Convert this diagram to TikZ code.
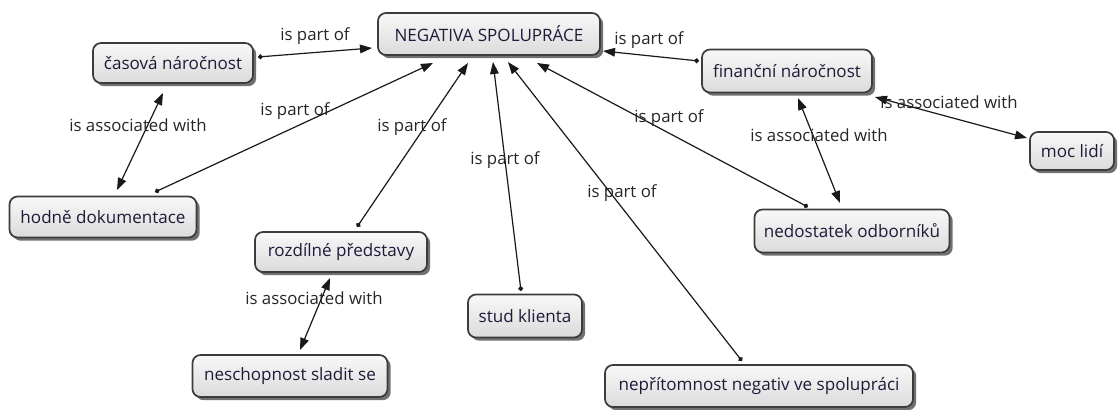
\documentclass[tikz,border=0pt]{standalone}
\usepackage{fontspec}
\setmainfont{Open Sans}
\usetikzlibrary{calc,arrows.meta,shadows}
\definecolor{boxfill}{HTML}{EEEEEE}
\definecolor{boxline}{HTML}{3C3C3C}
\definecolor{txt}{HTML}{1C1C3A}
\tikzset{
  concept/.style={draw=boxline, line width=1.3pt, rounded corners=6pt,
    top color=boxfill!40!white, bottom color=boxfill!92!black, 
    text=txt, inner sep=0pt, align=center,
    font=\fontsize{12.8pt}{14pt}\selectfont,
    drop shadow={shadow xshift=2.4pt, shadow yshift=-2.4pt, fill=black!65, opacity=0.85}},
  lbl/.style={text=black!85, inner sep=0pt, font=\fontsize{12.6pt}{14pt}\selectfont},
  partof/.style={draw=black!90, line width=0.9pt, {Circle[length=3.6pt]}-{Triangle[length=9pt,width=6.5pt]}},
  assoc/.style={draw=black!90, line width=0.9pt, {Triangle[length=9pt,width=6.5pt]}-{Triangle[length=9pt,width=6.5pt]}}
}
\begin{document}
\begin{tikzpicture}[x=0.75pt,y=-0.75pt]
\useasboundingbox[fill=white] (0,0) rectangle (1118,410);
% concepts
\node[concept, minimum width=222*0.75pt, minimum height=42*0.75pt] (neg) at (489,34) {NEGATIVA SPOLUPRÁCE};
\node[concept, minimum width=160*0.75pt, minimum height=40*0.75pt] (cas) at (173,63) {časová náročnost};
\node[concept, minimum width=170*0.75pt, minimum height=43*0.75pt] (fin) at (787,71) {finanční náročnost};
\node[concept, minimum width=84*0.75pt, minimum height=38*0.75pt] (moc) at (1072,151) {moc lidí};
\node[concept, minimum width=187*0.75pt, minimum height=41*0.75pt] (hod) at (103,217) {hodně dokumentace};
\node[concept, minimum width=172*0.75pt, minimum height=40*0.75pt] (roz) at (341,252) {rozdílné představy};
\node[concept, minimum width=195*0.75pt, minimum height=43*0.75pt] (ned) at (852,231) {nedostatek odborníků};
\node[concept, minimum width=195*0.75pt, minimum height=42*0.75pt] (nes) at (290,376) {neschopnost sladit se};
\node[concept, minimum width=114*0.75pt, minimum height=43*0.75pt] (stud) at (525,316) {stud klienta};
\node[concept, minimum width=308*0.75pt, minimum height=42*0.75pt] (nep) at (759,386) {nepřítomnost negativ ve spolupráci};
% is part of
\draw[partof] ($(cas)+(85,-6)$) -- ($(neg)+(-117,14)$);
\draw[partof] ($(fin)+(-88,-10)$) -- ($(neg)+(114,17)$);
\draw[partof] ($(hod)+(52,-25)$) -- ($(neg)+(-56,29)$);
\draw[partof] ($(roz)+(16,-25)$) -- ($(neg)+(-21,29)$);
\draw[partof] ($(stud)+(-4,-25)$) -- ($(neg)+(4,28)$);
\draw[partof] ($(nep)+(-17,-25)$) -- ($(neg)+(19,28)$);
\draw[partof] ($(ned)+(-44,-24)$) -- ($(neg)+(48,29)$);
% is associated with
\draw[assoc] ($(cas)+(-10,30)$) -- ($(hod)+(14,-27)$);
\draw[assoc] ($(fin)+(11,27)$) -- ($(ned)+(-12,-28)$);
\draw[assoc] ($(fin)+(88,26)$) -- ($(moc)+(-45,-13)$);
\draw[assoc] ($(roz)+(-11,26)$) -- ($(nes)+(10,-26)$);
% labels
\node[lbl] (l1) at (315,36) {is part of};
\node[lbl] (l2) at (649,40) {is part of};
\node[lbl] (l3) at (295,111) {is part of};
\node[lbl] (l4) at (412,127) {is part of};
\node[lbl] (l5) at (505,160) {is part of};
\node[lbl] (l6) at (622,193) {is part of};
\node[lbl] (l7) at (669,118) {is part of};
\node[lbl] (a1) at (138,125) {is associated with};
\node[lbl] (a2) at (819,135) {is associated with};
\node[lbl] (a3) at (949,102) {is associated with};
\node[lbl] (a4) at (314,298) {is associated with};
\end{tikzpicture}
\end{document}
